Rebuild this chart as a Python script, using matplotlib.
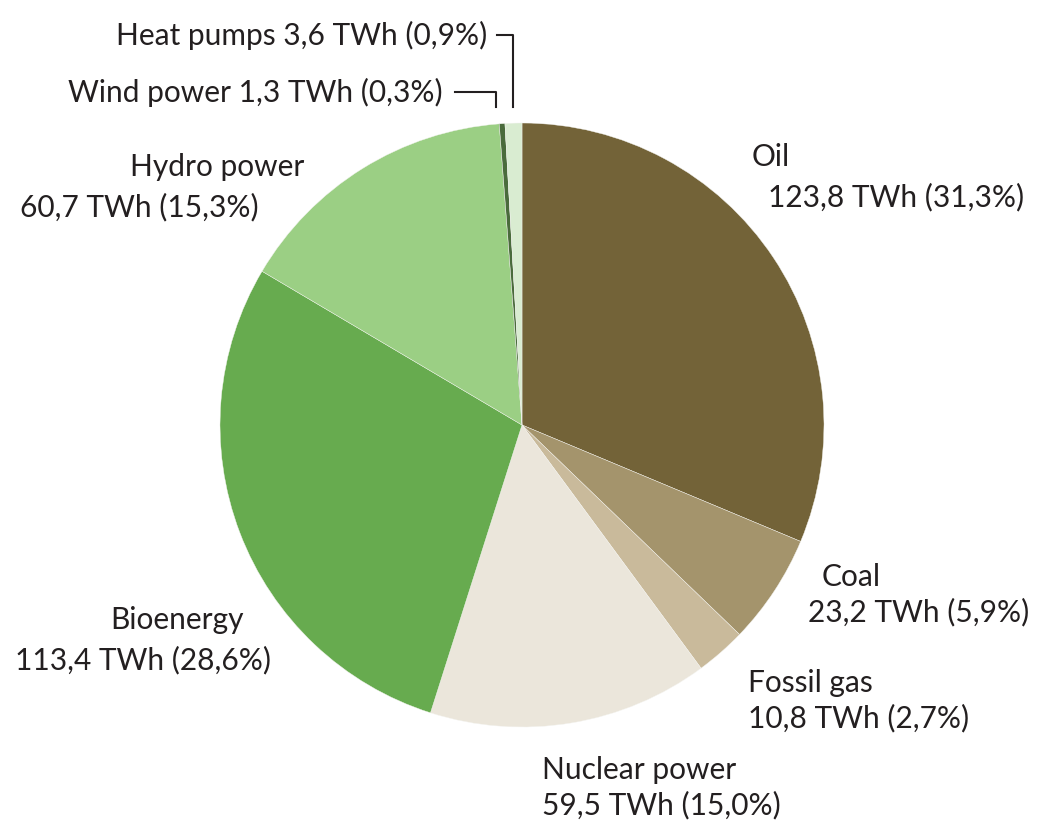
import matplotlib
matplotlib.use("Agg")
import matplotlib.pyplot as plt

W, H = 1039, 825
categories = ["Oil", "Coal", "Fossil gas", "Nuclear power", "Bioenergy", "Hydro power", "Wind power", "Heat pumps"]
twh = [123.8, 23.2, 10.8, 59.5, 113.4, 60.7, 1.3, 3.6]
shares = [31.3, 5.9, 2.7, 15.0, 28.6, 15.3, 0.3, 0.9]
colors = ["#736338", "#a4946c", "#c9ba9b", "#ebe6db", "#67ab4f", "#9bcf84", "#4a6b3c", "#d9ecd1"]

def fmt(v):
    return f"{v:.1f}".replace(".", ",")

fig = plt.figure(figsize=(W / 100, H / 100), dpi=100)
cx, cy, r = 522, 425, 302
ax = fig.add_axes([(cx - r) / W, 1 - (cy + r) / H, 2 * r / W, 2 * r / H])
ax.pie(shares, colors=colors, startangle=90, counterclock=False,
       wedgeprops=dict(linewidth=0.3, edgecolor="#f4f4f0"))
ax.set_xlim(-1, 1)
ax.set_ylim(-1, 1)
ax.set_aspect("equal")
ax.axis("off")

# overlay axes in pixel coordinates for labels and leader lines
ov = fig.add_axes([0, 0, 1, 1], facecolor="none")
ov.set_xlim(0, W)
ov.set_ylim(H, 0)
ov.axis("off")

font = dict(family="Lato", fontsize=21.5, color="#231f20", va="center")

def two_line(name_xy, val_xy, i):
    ov.text(name_xy[0], name_xy[1], categories[i], ha="left", **font)
    ov.text(val_xy[0], val_xy[1], f"{fmt(twh[i])} TWh ({fmt(shares[i])}%)", ha="left", **font)

two_line((752, 157), (768, 197), 0)
two_line((822, 577), (808, 612), 1)
two_line((748, 683), (748, 718), 2)
two_line((542, 770), (542, 805), 3)
two_line((110, 620), (15, 660), 4)
two_line((130, 167), (20, 207), 5)

# small slices with leader lines
ov.text(487, 35, f"{categories[7]} {fmt(twh[7])} TWh ({fmt(shares[7])}%)", ha="right", **font)
ov.text(443, 92, f"{categories[6]} {fmt(twh[6])} TWh ({fmt(shares[6])}%)", ha="right", **font)
ov.plot([497, 513, 513], [35, 35, 107], color="#231f20", lw=1.5)
ov.plot([455, 496, 496], [92, 92, 107], color="#231f20", lw=1.5)

fig.savefig("out.png", dpi=100, facecolor="white")
